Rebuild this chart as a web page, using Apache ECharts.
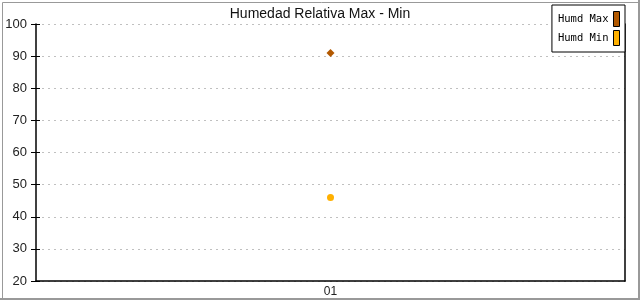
<!DOCTYPE html>
<html><head><meta charset="utf-8">
<script src="https://cdn.jsdelivr.net/npm/echarts@6/dist/echarts.min.js"></script>
<style>html,body{margin:0;padding:0;background:#fff}#c{width:640px;height:300px}</style>
</head><body><div id="c"></div>
<script>
const categories = ['01'];
const humdMax = [91];
const humdMin = [46];
const yTicks = [20, 30, 40, 50, 60, 70, 80, 90, 100];

const chart = echarts.init(document.getElementById('c'), null, {renderer: 'canvas'});
const gridLeft = 36, gridTop = 24, gridRight = 15, gridBottom = 19;
chart.setOption({
  animation: false,
  backgroundColor: '#fff',
  title: {
    text: 'Humedad Relativa Max - Min', left: 'center', top: 2,
    textStyle: {fontFamily: 'Liberation Sans, Arial', fontSize: 14, fontWeight: 'normal', color: '#111'}
  },
  graphic: [{
    type: 'rect', left: 0, top: 0, z: 100, silent: true,
    shape: {x: 0.5, y: 0.5, width: 638, height: 298},
    style: {fill: 'none', stroke: '#999', lineWidth: 1}
  }, {
    type: 'rect', z: 100, silent: true,
    shape: {x: 638, y: 0, width: 2, height: 300},
    style: {fill: '#999'}
  }, {
    type: 'rect', z: 100, silent: true,
    shape: {x: 0, y: 298, width: 640, height: 2},
    style: {fill: '#999'}
  }],
  legend: {
    orient: 'vertical', right: 15, top: 5, align: 'right',
    icon: 'rect', itemWidth: 6, itemHeight: 15, itemGap: 3,
    padding: [6, 5, 6, 6],
    backgroundColor: '#fff', borderColor: '#000', borderWidth: 1,
    textStyle: {fontFamily: 'DejaVu Sans Mono, monospace', fontSize: 10.5, color: '#000'},
    itemStyle: {borderColor: '#000', borderWidth: 1},
    data: ['Humd Max', 'Humd Min']
  },
  grid: {left: gridLeft, right: gridRight, top: gridTop, bottom: gridBottom},
  xAxis: {
    type: 'category', data: categories, boundaryGap: true,
    axisLine: {lineStyle: {color: '#000', width: 1.5}},
    axisTick: {show: false},
    axisLabel: {fontFamily: 'Liberation Sans, Arial', fontSize: 12, color: '#222', margin: 5},
    splitLine: {show: false}
  },
  yAxis: [{
    type: 'value', min: 20, max: 100, interval: 10, position: 'left',
    axisLine: {show: true, lineStyle: {color: '#000', width: 1.5}},
    axisTick: {show: true, length: 5, lineStyle: {color: '#000'}},
    axisLabel: {fontFamily: 'Liberation Sans, Arial', fontSize: 13, color: '#222', margin: 9,
      formatter: v => yTicks.includes(v) ? String(v) : ''},
    splitLine: {show: true, lineStyle: {color: '#c0c0c0', type: [2, 4], width: 1}}
  }, {
    type: 'value', min: 20, max: 100, interval: 10, position: 'left',
    axisLine: {show: false},
    axisTick: {show: true, inside: true, length: 4, lineStyle: {color: '#000'}},
    axisLabel: {show: false}, splitLine: {show: false}
  }, {
    type: 'value', min: 20, max: 100, interval: 10, position: 'right',
    axisLine: {show: true, lineStyle: {color: '#000', width: 1.5}},
    axisTick: {show: false}, axisLabel: {show: false}, splitLine: {show: false}
  }],
  series: [{
    name: 'Humd Max', type: 'line', data: humdMax,
    symbol: 'diamond', symbolSize: 8,
    itemStyle: {color: '#b35900'}, lineStyle: {color: '#b35900'}
  }, {
    name: 'Humd Min', type: 'line', data: humdMin,
    symbol: 'circle', symbolSize: 7,
    itemStyle: {color: '#ffb000'}, lineStyle: {color: '#ffb000'}
  }]
});
</script></body></html>
